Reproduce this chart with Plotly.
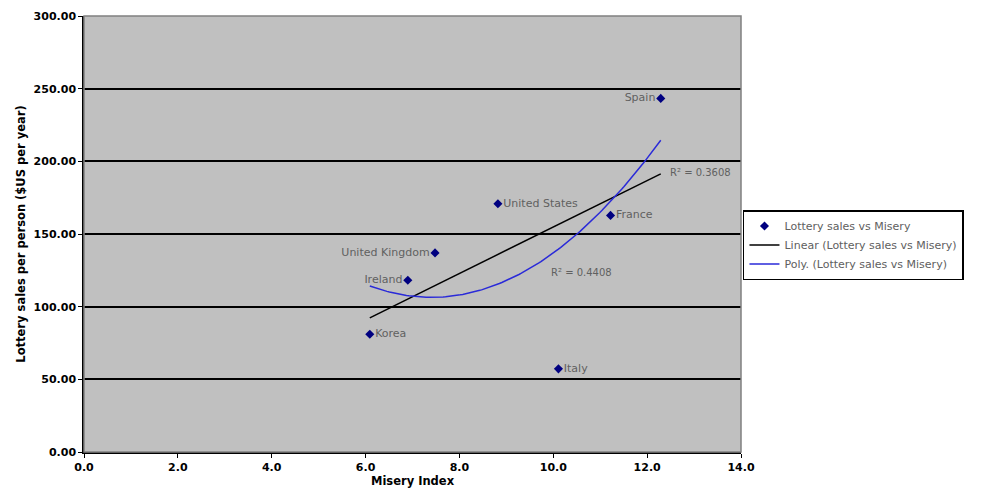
import numpy as np
import plotly.graph_objects as go

countries = ["Korea", "Ireland", "United Kingdom", "United States", "Italy", "France", "Spain"]
misery = [6.09, 6.90, 7.48, 8.82, 10.11, 11.22, 12.29]
lottery = [81.0, 118.2, 137.0, 170.8, 57.2, 162.8, 243.3]
label_pos = ["middle right", "middle left", "middle left", "middle right",
             "middle right", "middle right", "middle left"]
r2_linear_text = "R² = 0.3608"
r2_poly_text = "R² = 0.4408"
y_ticks = [0, 50, 100, 150, 200, 250, 300]
x_ticks = [0, 2, 4, 6, 8, 10, 12, 14]

x = np.array(misery)
y = np.array(lottery)
xs = np.linspace(x.min(), x.max(), 120)
lin = np.polyfit(x, y, 1)
poly = np.polyfit(x, y, 2)

FONT = "DejaVu Sans, Liberation Sans, Arial, sans-serif"
TXT = "#606060"

fig = go.Figure()
fig.add_trace(go.Scatter(
    x=misery, y=lottery, mode="markers+text", text=countries,
    textposition=label_pos, textfont=dict(family=FONT, size=11, color=TXT),
    marker=dict(symbol="diamond", size=7, color="#000080"),
    name="Lottery sales vs Misery", cliponaxis=False))
fig.add_trace(go.Scatter(
    x=[x.min(), x.max()], y=np.polyval(lin, [x.min(), x.max()]), mode="lines",
    line=dict(color="black", width=1.5), name="Linear (Lottery sales vs Misery)"))
fig.add_trace(go.Scatter(
    x=xs, y=np.polyval(poly, xs), mode="lines",
    line=dict(color="#2a2ad8", width=1.5), name="Poly. (Lottery sales vs Misery)"))

fig.add_annotation(x=12.44, y=192.6, text=r2_linear_text, showarrow=False, xanchor="left",
                   font=dict(family=FONT, size=10, color=TXT))
fig.add_annotation(x=9.9, y=123.7, text=r2_poly_text, showarrow=False, xanchor="left",
                   font=dict(family=FONT, size=10, color=TXT))

# plot frame (gray top/right)
fig.add_shape(type="rect", xref="paper", yref="paper", x0=0, y0=0, x1=1, y1=1,
              line=dict(color="#808080", width=1.5), layer="above")

fig.update_layout(
    width=984, height=501,
    margin=dict(l=76, r=251, t=8, b=57),
    paper_bgcolor="white", plot_bgcolor="#C0C0C0",
    font=dict(family=FONT, size=10, color="black"),
    showlegend=True,
    legend=dict(x=1.003, y=0.555, xanchor="left", yanchor="top",
                bgcolor="white", bordercolor="black", borderwidth=1.5,
                font=dict(family=FONT, size=11, color=TXT),
                itemwidth=30, tracegroupgap=0),
)
fig.update_xaxes(range=[0, 14], tickvals=x_ticks, ticktext=[f"{v:.1f}" for v in x_ticks],
                 automargin=False,
                 showgrid=False, zeroline=False, showline=True, linecolor="black", linewidth=1.5,
                 ticks="outside", ticklen=4, tickcolor="black",
                 tickfont=dict(family=FONT, size=11, color="black", weight="bold"),
                 title=dict(text="<b>Misery Index</b>", font=dict(family=FONT, size=11.5), standoff=4))
fig.update_yaxes(range=[0, 300], tickvals=y_ticks, ticktext=[f"{v:.2f}" for v in y_ticks],
                 automargin=False,
                 showgrid=True, gridcolor="black", gridwidth=1.5, zeroline=False,
                 showline=True, linecolor="black", linewidth=1.5,
                 ticks="outside", ticklen=4, tickcolor="black",
                 tickfont=dict(family=FONT, size=11, color="black", weight="bold"),
                 title=dict(text="<b>Lottery sales per person ($US per year)</b>",
                            font=dict(family=FONT, size=11.5), standoff=6))

fig.write_html("out.html")
